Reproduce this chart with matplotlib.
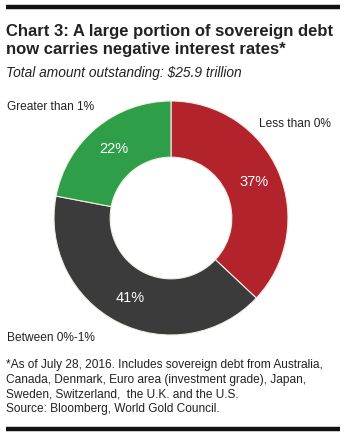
import matplotlib
matplotlib.use("Agg")
import matplotlib.pyplot as plt

categories = ["Less than 0%", "Between 0%-1%", "Greater than 1%"]
shares = [37, 41, 22]
colors = ["#B3232B", "#3B3B3B", "#2E9F48"]

title = "Chart 3: A large portion of sovereign debt\nnow carries negative interest rates*"
subtitle = "Total amount outstanding: $25.9 trillion"
footnote = ("*As of July 28, 2016. Includes sovereign debt from Australia,\n"
            "Canada, Denmark, Euro area (investment grade), Japan,\n"
            "Sweden, Switzerland,  the U.K. and the U.S.\n"
            "Source: Bloomberg, World Gold Council.")

plt.rcParams["font.family"] = ["Liberation Sans", "DejaVu Sans"]

W, H = 350, 441
fig = plt.figure(figsize=(W / 100, H / 100), dpi=100)
fig.patch.set_facecolor("white")

def fx(px):
    return px / W

def fy(py):
    return 1 - py / H

# top and bottom rules
for y0 in (6.5, 429):
    fig.add_artist(plt.Line2D([fx(6), fx(340)], [fy(y0), fy(y0)], color="#111111", lw=3.2,
                              transform=fig.transFigure, solid_capstyle="butt"))

fig.text(fx(6), fy(24), title, ha="left", va="top", fontsize=12.0, fontweight="bold",
         color="#222222", linespacing=1.22)
fig.text(fx(6), fy(66), subtitle, ha="left", va="top", fontsize=9.9, style="italic",
         color="#222222")

# donut
cx, cy, r = 171, 218, 117
ax = fig.add_axes([fx(cx - r), fy(cy + r), 2 * r / W, 2 * r / H])
wedges, texts, autotexts = ax.pie(
    shares, colors=colors, startangle=90, counterclock=False, radius=1,
    autopct=lambda p: f"{p:.0f}%", pctdistance=0.77,
    wedgeprops=dict(width=0.48, edgecolor="#F4EEE4", linewidth=0.8),
    textprops=dict(color="white", fontsize=10.5))
ax.set_xlim(-1, 1)
ax.set_ylim(-1, 1)
ax.set_aspect("equal")
ax.axis("off")

# category labels outside the ring
lab = dict(ha="left", va="center", fontsize=8.6, color="#222222")
fig.text(fx(259), fy(124), categories[0], **lab)
fig.text(fx(7), fy(338), categories[1], **lab)
fig.text(fx(7), fy(107), categories[2], **lab)

fig.text(fx(6), fy(359), footnote, ha="left", va="top", fontsize=8.6, color="#222222",
         linespacing=1.3)

fig.savefig("out.png", dpi=100)
